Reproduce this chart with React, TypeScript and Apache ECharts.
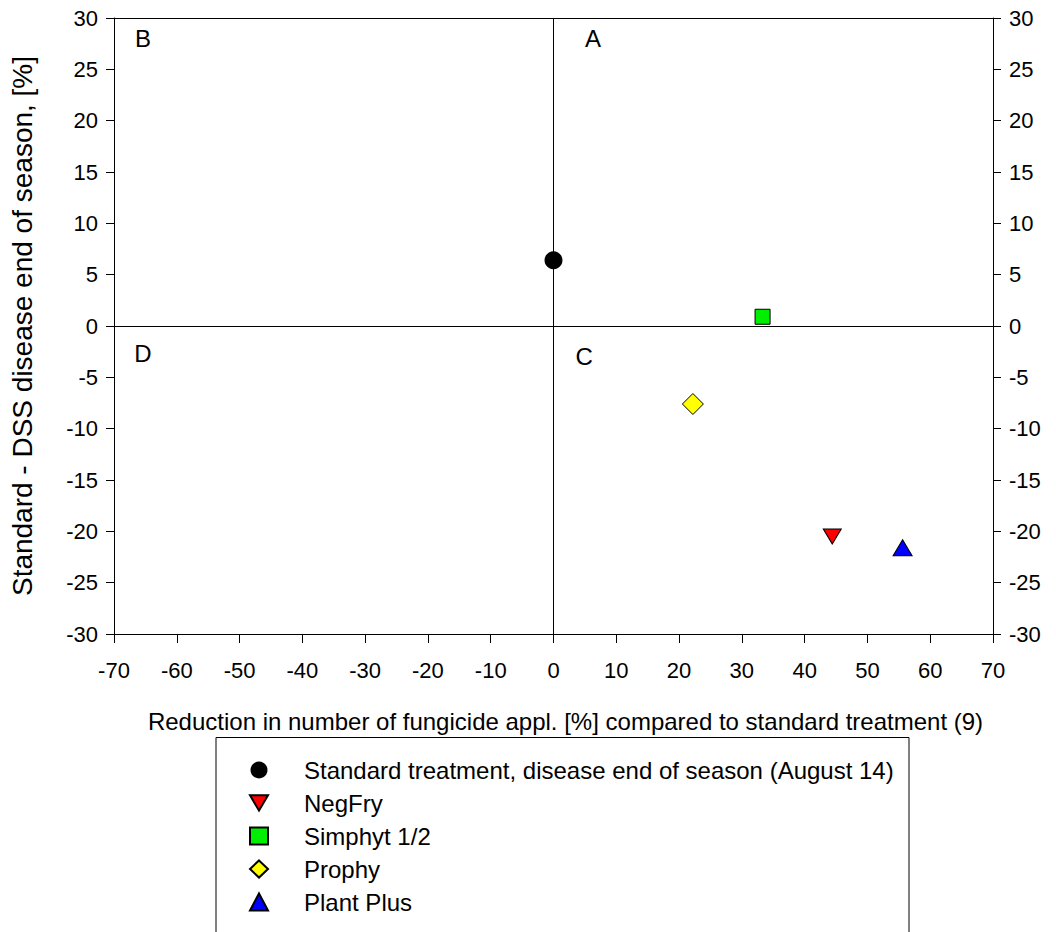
import React, { useEffect, useRef } from "react";
import * as echarts from "echarts";

const FONT = "Liberation Sans, Arial, sans-serif";

const xTicksMin = -70;
const xTicksMax = 70;
const xInterval = 10;
const yMin = -30;
const yMax = 30;
const yInterval = 5;

const seriesNames = [
  "Standard treatment, disease end of season (August 14)",
  "NegFry",
  "Simphyt 1/2",
  "Prophy",
  "Plant Plus",
];
const standardPoint = [[0, 6.4]];
const negFryPoint = [[44.4, -20.5]];
const simphytPoint = [[33.3, 0.9]];
const prophyPoint = [[22.2, -7.6]];
const plantPlusPoint = [[55.6, -21.6]];

const quadrantLabels = [
  { name: "B", value: [-65.4, 28] },
  { name: "A", value: [6.3, 28] },
  { name: "D", value: [-65.4, -2.7] },
  { name: "C", value: [4.9, -3.0] },
];

const xTitle = "Reduction in number of fungicide appl. [%] compared to standard treatment (9)";
const yTitle = "Standard - DSS disease end of season, [%]";

const DOWN_TRIANGLE = "path://M0,0L20,0L10,17Z";

export default function App() {
  const ref = useRef<HTMLDivElement>(null);
  useEffect(() => {
    if (!ref.current) return;
    const chart = echarts.init(ref.current, undefined, { renderer: "svg" });
    const border = { borderColor: "#000", borderWidth: 1 };
    const axisText = { color: "#000", fontFamily: FONT, fontSize: 22 };
    const yAxisCommon = {
      type: "value",
      min: yMin,
      max: yMax,
      interval: yInterval,
      splitLine: { show: false },
      axisLine: { show: true, onZero: false, lineStyle: { color: "#000", width: 1 } },
      axisTick: { show: true, inside: false, length: 8, lineStyle: { color: "#000" } },
    };
    chart.setOption({
      animation: false,
      backgroundColor: "#fff",
      grid: { left: 114, right: 63, top: 18, bottom: 298, containLabel: false },
      xAxis: [
        {
          type: "value",
          min: xTicksMin,
          max: xTicksMax,
          interval: xInterval,
          position: "bottom",
          splitLine: { show: false },
          axisLine: { show: true, onZero: false, lineStyle: { color: "#000", width: 1 } },
          axisTick: { show: true, inside: false, length: 9, lineStyle: { color: "#000" } },
          axisLabel: { ...axisText, margin: 25 },
          name: xTitle,
          nameLocation: "middle",
          nameGap: 75,
          nameTextStyle: { color: "#000", fontFamily: FONT, fontSize: 24, padding: [0, 0, 0, 24] },
        },
        {
          type: "value",
          min: xTicksMin,
          max: xTicksMax,
          position: "top",
          splitLine: { show: false },
          axisLine: { show: true, onZero: false, lineStyle: { color: "#000", width: 1 } },
          axisTick: { show: false },
          axisLabel: { show: false },
        },
      ],
      yAxis: [
        {
          ...yAxisCommon,
          position: "left",
          axisLabel: { ...axisText, margin: 16 },
          name: yTitle,
          nameLocation: "middle",
          nameGap: 78,
          nameRotate: 90,
          nameTextStyle: { color: "#000", fontFamily: FONT, fontSize: 28 },
        },
        {
          ...yAxisCommon,
          position: "right",
          axisLabel: { ...axisText, margin: 16 },
        },
      ],
      legend: {
        orient: "vertical",
        left: 244,
        top: 753,
        itemWidth: 18,
        itemHeight: 17,
        itemGap: 9,
        data: [
          { name: seriesNames[0] },
          { name: seriesNames[1], icon: DOWN_TRIANGLE },
          { name: seriesNames[2] },
          { name: seriesNames[3] },
          { name: seriesNames[4] },
        ],
        textStyle: {
          color: "#000",
          fontFamily: FONT,
          fontSize: 24,
          lineHeight: 24,
          padding: [0, 0, 0, 31],
        },
        selectedMode: false,
      },
      graphic: [
        {
          type: "rect",
          shape: { x: 216, y: 737.5, width: 693, height: 300 },
          style: { fill: "none", stroke: "#000", lineWidth: 1 },
          silent: true,
        },
      ],
      series: [
        {
          name: seriesNames[0],
          type: "scatter",
          data: standardPoint,
          symbol: "circle",
          symbolSize: 18,
          itemStyle: { color: "#000", opacity: 1 },
          markLine: {
            silent: true,
            symbol: ["none", "none"],
            label: { show: false },
            lineStyle: { color: "#000", width: 1, type: "solid" },
            data: [{ xAxis: 0 }, { yAxis: 0 }],
            z: 1,
          },
          z: 5,
        },
        {
          name: seriesNames[1],
          type: "scatter",
          data: negFryPoint,
          symbol: "triangle",
          symbolRotate: 180,
          symbolSize: [18, 15],
          itemStyle: { color: "#ff0000", opacity: 1, ...border },
          z: 5,
        },
        {
          name: seriesNames[2],
          type: "scatter",
          data: simphytPoint,
          symbol: "rect",
          symbolSize: 15,
          itemStyle: { color: "#00ee00", opacity: 1, ...border },
          z: 5,
        },
        {
          name: seriesNames[3],
          type: "scatter",
          data: prophyPoint,
          symbol: "diamond",
          symbolSize: 21,
          itemStyle: { color: "#ffff00", opacity: 1, ...border },
          z: 5,
        },
        {
          name: seriesNames[4],
          type: "scatter",
          data: plantPlusPoint,
          symbol: "triangle",
          symbolSize: [19, 16],
          itemStyle: { color: "#0000ff", opacity: 1, ...border },
          z: 5,
        },
        {
          name: "quadrants",
          type: "scatter",
          data: quadrantLabels,
          symbolSize: 0,
          silent: true,
          itemStyle: { color: "#000", opacity: 1 },
          label: {
            show: true,
            position: "inside",
            formatter: (p: any) => p.name,
            color: "#000",
            opacity: 1,
            textBorderWidth: 0,
            fontFamily: FONT,
            fontSize: 24,
          },
          z: 4,
        },
      ],
    });
    return () => chart.dispose();
  }, []);
  return (
    <div
      ref={ref}
      style={{ position: "fixed", left: 0, top: 0, width: 1056, height: 932, background: "#fff" }}
    />
  );
}
